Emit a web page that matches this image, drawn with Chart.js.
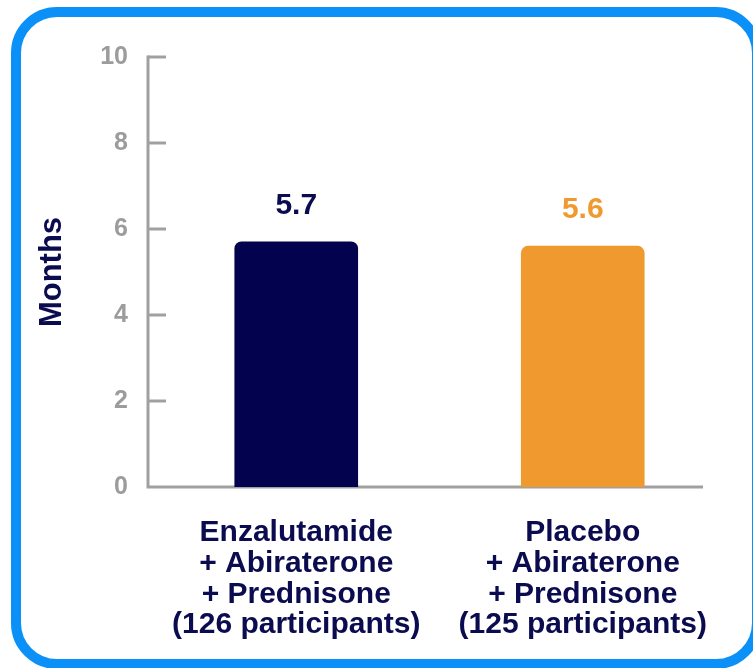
<!DOCTYPE html>
<html>
<head>
<meta charset="utf-8">
<script src="https://cdn.jsdelivr.net/npm/chart.js@4"></script>
<style>
  html, body { margin: 0; padding: 0; background: #fff; overflow: hidden; }
  #wrap { position: relative; width: 753px; height: 668px; }
  #frame {
    position: absolute; left: 11px; top: 7px; width: 751px; height: 662px;
    box-sizing: border-box; border: 10px solid #0a90f7; border-radius: 46px;
  }
  canvas { position: absolute; left: 0; top: 0; }
</style>
</head>
<body>
<div id="wrap">
  <div id="frame"></div>
  <canvas id="chart" width="753" height="668"></canvas>
</div>
<script>
// Median time on treatment, by study arm
const categories = [
  ['Enzalutamide', '+ Abiraterone', '+ Prednisone', '(126 participants)'],
  ['Placebo', '+ Abiraterone', '+ Prednisone', '(125 participants)']
];
const months = [5.7, 5.6];
const barColors = ['#02024e', '#f0992f'];
const valueLabelColors = ['#0b0b4f', '#f0992f'];
const yTicks = [0, 2, 4, 6, 8, 10];

const FONT = '"Liberation Sans", Arial, sans-serif';
const AXIS_GREY = '#a0a0a0';
const NAVY = '#0b0b4f';

// Axis lines with inward-pointing tick marks
const axisLines = {
  id: 'axisLines',
  beforeDatasetsDraw(chart) {
    const ctx = chart.ctx;
    const y = chart.scales.y;
    const x0 = 148;
    const xEnd = 703;
    const yTop = y.getPixelForValue(10);
    const yBottom = y.getPixelForValue(0);
    ctx.save();
    ctx.strokeStyle = AXIS_GREY;
    ctx.lineWidth = 3;
    ctx.beginPath();
    ctx.moveTo(x0, yTop - 1.5);
    ctx.lineTo(x0, yBottom);
    ctx.lineTo(xEnd, yBottom);
    ctx.stroke();
    yTicks.forEach(v => {
      if (v === 0) return;
      const py = y.getPixelForValue(v);
      ctx.beginPath();
      ctx.moveTo(x0, py);
      ctx.lineTo(x0 + 18, py);
      ctx.stroke();
    });
    ctx.restore();
  }
};

// Value printed above each bar
const valueLabels = {
  id: 'valueLabels',
  afterDatasetsDraw(chart) {
    const ctx = chart.ctx;
    const meta = chart.getDatasetMeta(0);
    ctx.save();
    ctx.font = 'bold 30px ' + FONT;
    ctx.textAlign = 'center';
    ctx.textBaseline = 'alphabetic';
    meta.data.forEach((bar, i) => {
      ctx.fillStyle = valueLabelColors[i];
      ctx.fillText(months[i].toFixed(1), bar.x, bar.y - 28);
    });
    ctx.restore();
  }
};

new Chart(document.getElementById('chart'), {
  type: 'bar',
  data: {
    labels: categories,
    datasets: [{
      data: months,
      backgroundColor: barColors,
      borderWidth: 0,
      borderRadius: { topLeft: 7, topRight: 7, bottomLeft: 0, bottomRight: 0 },
      borderSkipped: 'bottom',
      barThickness: 123
    }]
  },
  options: {
    responsive: false,
    animation: false,
    devicePixelRatio: 1,
    layout: { padding: { top: 57, right: 27, bottom: 0, left: 0 } },
    plugins: {
      legend: { display: false },
      tooltip: { enabled: false }
    },
    scales: {
      x: {
        grid: { display: false },
        border: { display: false },
        ticks: {
          color: NAVY,
          font: { family: FONT, size: 30, weight: 'bold', lineHeight: 1.03 },
          padding: 22,
          maxRotation: 0,
          autoSkip: false
        },
        afterFit(scale) { scale.height = 181; }
      },
      y: {
        min: 0,
        max: 10,
        afterBuildTicks(scale) { scale.ticks = yTicks.map(v => ({ value: v })); },
        grid: { display: false, drawTicks: false },
        border: { display: false },
        ticks: {
          color: '#9c9c9c',
          font: { family: FONT, size: 25, weight: 'bold' },
          padding: 25
        },
        title: {
          display: true,
          text: 'Months',
          color: NAVY,
          font: { family: FONT, size: 31, weight: 'bold', lineHeight: 1.2 },
          padding: { top: 34, bottom: 0 }
        },
        afterFit(scale) { scale.width = 153; }
      }
    }
  },
  plugins: [axisLines, valueLabels]
});
</script>
</body>
</html>
